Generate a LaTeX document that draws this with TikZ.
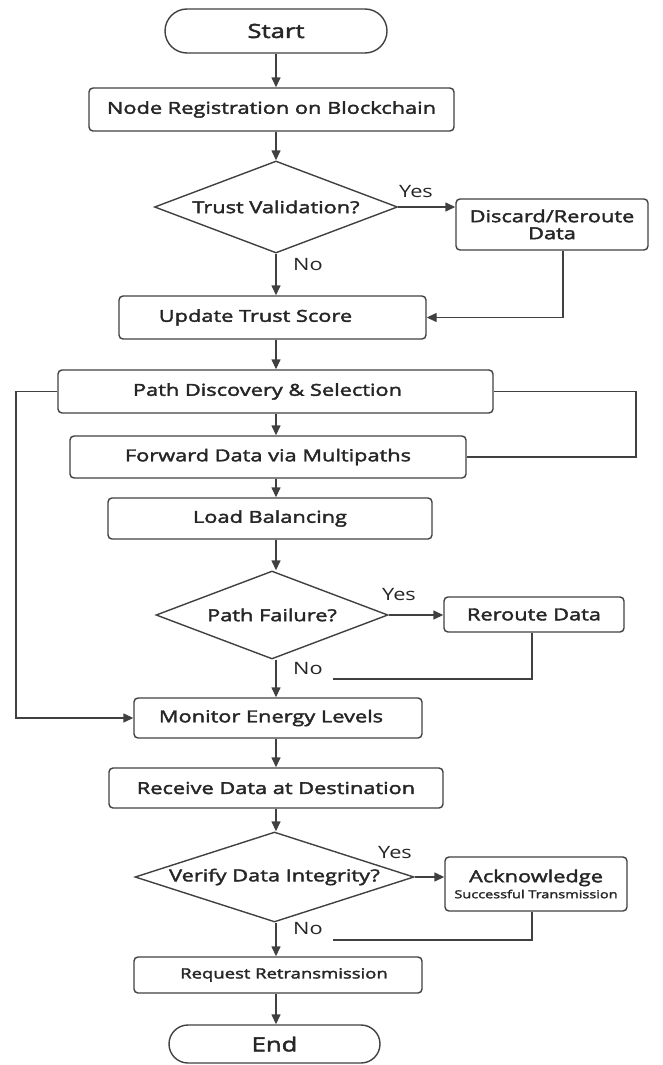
\documentclass[tikz,border=0pt]{standalone}
\usepackage{fontspec}
\setmainfont{Open Sans}[FakeStretch=1.28]
\newfontfamily\semibf{Open Sans}[FakeBold=2.4,FakeStretch=1.32]
\usetikzlibrary{shapes.geometric,arrows.meta}
\begin{document}
\begin{tikzpicture}[x=1pt,y=-1pt,
  base/.style={draw=black!75, line width=1.4pt, font=\semibf\fontsize{16.5}{19}\selectfont, text=black!85, inner sep=0pt, align=center},
  proc/.style={base, rectangle, rounded corners=4pt},
  term/.style={base, rectangle, rounded corners=19pt, font=\semibf\fontsize{19.5}{22}\selectfont},
  decision/.style={base, diamond, aspect=2.6},
  arr/.style={draw=black!75, line width=1.4pt, -{Triangle[length=10pt,width=9pt]}},
  link/.style={draw=black!75, line width=1.4pt},
  answer/.style={font=\fontsize{17}{20}\selectfont, text=black!85, inner sep=0pt}]
\useasboundingbox (0,0) rectangle (662,1065);

% process column and side rails
\coordinate (spine) at (276,0);
\coordinate (leftrail) at (16,0);
\coordinate (rightrail) at (636,0);
\coordinate (open2) at (333,679);
\coordinate (open3) at (333,940);

% nodes
\node[term, minimum width=222pt, minimum height=44pt, rounded corners=22pt] (start) at (276,31) {Start};
\node[proc, minimum width=365pt, minimum height=43pt] (reg) at (271.5,109.5) {Node Registration on Blockchain};
\node[decision, minimum width=243pt, minimum height=92pt] (d1) at (276,207) {Trust Validation?};
\node[proc, minimum width=192pt, minimum height=51pt, font=\semibf\fontsize{16.5}{17}\selectfont] (disc) at (552,224.5) {Discard/Reroute\\Data};
\node[proc, minimum width=307pt, minimum height=43pt] (upd) at (272.5,317.5) {Update Trust Score\hspace*{34pt}};
\node[proc, minimum width=435pt, minimum height=43pt] (path) at (275.5,391.5) {Path Discovery \& Selection\hspace*{16pt}};
\node[proc, minimum width=396pt, minimum height=42pt] (fwd) at (268,457) {Forward Data via Multipaths};
\node[proc, minimum width=324pt, minimum height=41pt] (load) at (270,518.5) {Load Balancing};
\node[decision, minimum width=232pt, minimum height=88pt] (d2) at (272,615) {Path Failure?};
\node[proc, minimum width=180pt, minimum height=35pt] (rer) at (534,614.5) {Reroute Data};
\node[proc, minimum width=288pt, minimum height=40pt] (mon) at (278,718) {Monitor Energy Levels\hspace*{14pt}};
\node[proc, minimum width=334pt, minimum height=40pt] (rec) at (276,788) {Receive Data at Destination};
\node[decision, minimum width=279pt, minimum height=90pt, aspect=3.2] (d3) at (274.5,877) {Verify Data Integrity?};
\node[proc, minimum width=182pt, minimum height=54pt] (ack) at (536,884)
  {Acknowledge\\[-3pt]{\fontsize{11}{12}\selectfont Successful Transmission}};
\node[proc, minimum width=288pt, minimum height=36pt, font=\semibf\fontsize{14}{16}\selectfont] (req) at (278,975) {\hspace*{12pt}Request Retransmission};
\node[term, minimum width=211pt, minimum height=38pt] (end) at (274.5,1044) {End};

% main flow
\draw[arr] (start.south -| spine) -- (reg.north -| spine);
\draw[arr] (reg.south -| spine) -- (d1.north);
\draw[arr] (d1.south) -- (upd.north -| spine);
\draw[arr] (upd.south -| spine) -- (path.north -| spine);
\draw[arr] (path.south -| spine) -- (fwd.north -| spine);
\draw[arr] (fwd.south -| spine) -- (load.north -| spine);
\draw[arr] (load.south -| spine) -- (d2.north -| spine);
\draw[arr] (d2.south -| spine) -- (mon.north -| spine);
\draw[arr] (mon.south -| spine) -- (rec.north -| spine);
\draw[arr] (rec.south -| spine) -- (d3.north -| spine);
\draw[arr] (d3.south -| spine) -- (req.north -| spine);
\draw[arr] (req.south -| spine) -- (end.north -| spine);

% decision branches
\draw[arr] (d1.east) -- (d1.east -| disc.west);
\draw[arr] (disc.south -| 563,0) |- (upd.east);
\draw[arr] (d2.east) -- (d2.east -| rer.west);
\draw[link] (rer.south -| 532,0) |- (open2);
\draw[arr] (d3.east) -- (d3.east -| ack.west);
\draw[link] (ack.south -| 532,0) |- (open3);

% side rails
\draw[arr] (path.west) -- (path.west -| leftrail) |- (mon.west);
\draw[link] (path.east) -- (path.east -| rightrail) |- (fwd.east);

% branch labels
\node[answer] (y1) at (416,192) {Yes};
\node[answer] (n1) at (308,265) {No};
\node[answer] (y2) at (399,595) {Yes};
\node[answer] (n2) at (308,669) {No};
\node[answer] (y3) at (395,853) {Yes};
\node[answer] (n3) at (308,929) {No};
\end{tikzpicture}
\end{document}
